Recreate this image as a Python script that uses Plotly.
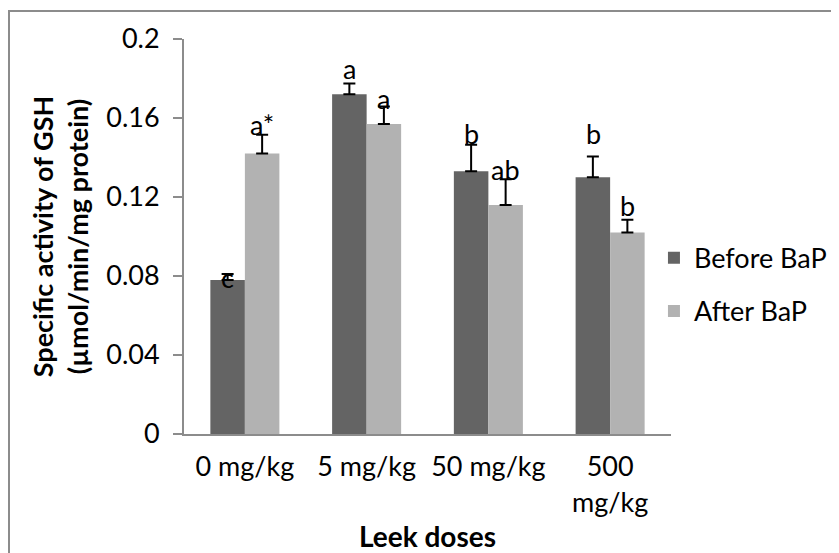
import plotly.graph_objects as go

categories = ["0 mg/kg", "5 mg/kg", "50 mg/kg", "500<br>mg/kg"]
before_vals = [0.078, 0.172, 0.133, 0.130]
after_vals = [0.142, 0.157, 0.116, 0.102]
before_err = [0.003, 0.0055, 0.0135, 0.0105]
after_err = [0.0095, 0.0088, 0.013, 0.0065]
before_letters = ["c", "a", "b", "b"]
after_letters = ["a*", "a", "ab", "b"]
before_letter_y = [0.079, 0.185, 0.152, 0.152]
after_letter_y = [0.1565, 0.170, 0.1337, 0.1155]
y_ticks = [0, 0.04, 0.08, 0.12, 0.16, 0.2]
y_ticktext = ["0", "0.04", "0.08", "0.12", "0.16", "0.2"]

FONT = "Lato, Carlito, Calibri, sans-serif"
DARK = "#646464"
LIGHT = "#b2b2b2"
FS = 27

fig = go.Figure()
fig.add_trace(go.Bar(
    x=categories, y=before_vals, name="Before BaP", marker_color=DARK,
    marker_line_width=0, legendgroup="b",
    error_y=dict(type="data", symmetric=False, array=before_err,
                 arrayminus=[0] * len(before_err), color="black",
                 thickness=2, width=6),
))
fig.add_trace(go.Bar(
    x=categories, y=after_vals, name="After BaP", marker_color=LIGHT,
    marker_line_width=0, legendgroup="a",
    error_y=dict(type="data", symmetric=False, array=after_err,
                 arrayminus=[0] * len(after_err), color="black",
                 thickness=2, width=6),
))

annotations = []
for c, lab, yv in zip(categories, before_letters, before_letter_y):
    annotations.append(dict(x=c, y=yv, xref="x", yref="y", text=lab,
                            showarrow=False, xshift=-17, yanchor="middle",
                            font=dict(family=FONT, size=FS, color="black")))
for c, lab, yv in zip(categories, after_letters, after_letter_y):
    annotations.append(dict(x=c, y=yv, xref="x", yref="y", text=lab,
                            showarrow=False, xshift=17, yanchor="middle",
                            font=dict(family=FONT, size=FS, color="black")))

fig.update_layout(
    width=831, height=545,
    margin=dict(l=176, r=168, t=31, b=119, autoexpand=False),
    paper_bgcolor="white", plot_bgcolor="white",
    barmode="group", bargap=0.433, bargroupgap=0,
    font=dict(family=FONT, size=FS, color="black"),
    showlegend=True,
    legend=dict(x=0.965, xanchor="left", y=0.507, yanchor="top",
                font=dict(family=FONT, size=FS, color="black"),
                tracegroupgap=15, traceorder="grouped",
                bgcolor="rgba(0,0,0,0)", itemwidth=30),
    annotations=annotations,
    shapes=[dict(type="rect", xref="paper", yref="paper",
                 x0=-175 / 487, x1=2.0, y0=-1.0, y1=423 / 395,
                 line=dict(color="#8c8c8c", width=2), layer="below")],
)
fig.update_xaxes(
    showline=True, linecolor="#8c8c8c", linewidth=2, ticks="",
    showgrid=False, tickfont=dict(family=FONT, size=FS),
    ticklabelstandoff=8,
    title=dict(text="<b>Leek doses</b>", font=dict(family=FONT, size=28), standoff=12),
)
fig.update_yaxes(
    range=[0, 0.2], tickvals=y_ticks, ticktext=y_ticktext,
    showline=True, linecolor="#8c8c8c", linewidth=2,
    ticks="outside", ticklen=9, tickcolor="#8c8c8c", tickwidth=2,
    showgrid=False, zeroline=False, tickfont=dict(family=FONT, size=FS),
    ticklabelstandoff=8,
    title=dict(text="<b>Specific activity of GSH<br>(µmol/min/mg protein)</b>",
               font=dict(family=FONT, size=FS), standoff=10),
)
fig.write_html("out.html")
